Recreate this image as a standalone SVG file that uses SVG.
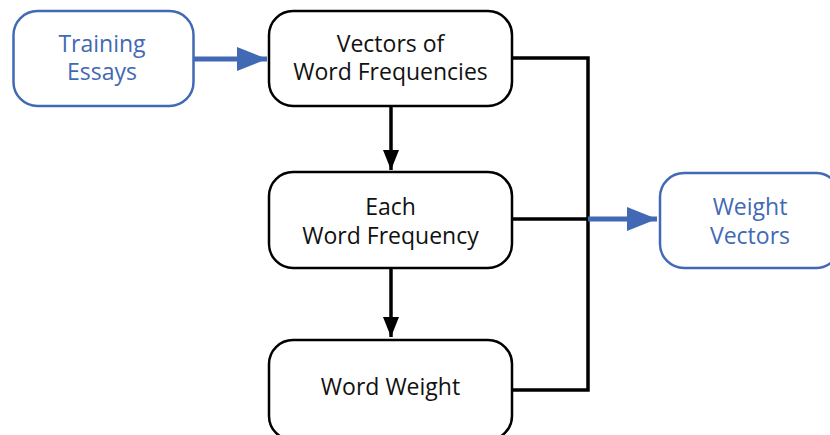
<svg xmlns="http://www.w3.org/2000/svg" width="830" height="435" viewBox="0 0 830 435">
<style>
.blue{fill:#fff;stroke:#4169b4;stroke-width:2.5}
.black{fill:#fff;stroke:#000;stroke-width:2.5}
text{font-family:"Open Sans","Noto Sans",sans-serif;font-size:23px;text-anchor:middle}
.bt{fill:#4169b4}
.kt{fill:#111}
.ln{fill:none;stroke:#000;stroke-width:3.5}
.bl{fill:none;stroke:#4169b4;stroke-width:5}
</style>
<defs>
<marker id="ab" markerUnits="userSpaceOnUse" markerWidth="30" markerHeight="24" refX="30" refY="12" orient="auto"><path d="M0,0 L30,12 L0,24 Z" fill="#4169b4"/></marker>
<marker id="ak" markerUnits="userSpaceOnUse" markerWidth="20" markerHeight="16" refX="20" refY="8" orient="auto"><path d="M0,0 L20,8 L0,16 Z" fill="#000"/></marker>
</defs>
<g id="connectors">
<path class="ln" d="M512,58 H588 V390 H512"/>
<path class="ln" d="M512,219 H588"/>
<path class="bl" d="M588,219 H657" marker-end="url(#ab)"/>
<path class="bl" d="M194,59 H267" marker-end="url(#ab)"/>
<path class="ln" d="M391,107 V170" marker-end="url(#ak)"/>
<path class="ln" d="M391,268 V337" marker-end="url(#ak)"/>
</g>
<g id="training">
<rect class="blue" x="13.5" y="11" width="180" height="95" rx="24"/>
<text class="bt" x="102" y="52">Training</text>
<text class="bt" x="102" y="80">Essays</text>
</g>
<g id="vectors">
<rect class="black" x="269" y="11" width="243" height="95" rx="24"/>
<text class="kt" x="390.5" y="52">Vectors of</text>
<text class="kt" x="390.5" y="80">Word Frequencies</text>
</g>
<g id="each">
<rect class="black" x="269" y="172" width="243" height="96" rx="24"/>
<text class="kt" x="390.5" y="215">Each</text>
<text class="kt" x="390.5" y="244">Word Frequency</text>
</g>
<g id="wordweight">
<rect class="black" x="269" y="340" width="243" height="100" rx="24"/>
<text class="kt" x="390.5" y="395">Word Weight</text>
</g>
<g id="weightvectors">
<rect class="blue" x="660" y="173" width="180" height="95" rx="24"/>
<text class="bt" x="750" y="215">Weight</text>
<text class="bt" x="750" y="244">Vectors</text>
</g>
</svg>
